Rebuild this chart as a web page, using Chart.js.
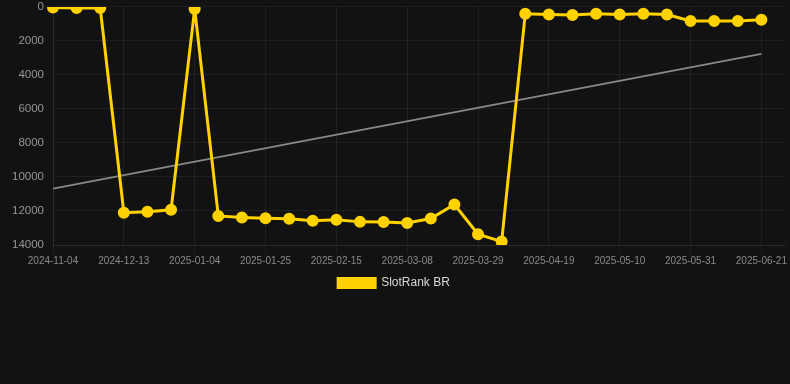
<!DOCTYPE html>
<html>
<head>
<meta charset="utf-8">
<script src="https://cdn.jsdelivr.net/npm/chart.js@4"></script>
<style>
  html, body { margin: 0; padding: 0; background: #121212; }
  #wrap { width: 790px; height: 299px; position: relative; }
</style>
</head>
<body>
<div id="wrap"><canvas id="rank"></canvas></div>
<script>
const dates = [
  "2024-11-04", "2024-11-17", "2024-11-30", "2024-12-13", "2024-12-20", "2024-12-28",
  "2025-01-04", "2025-01-11", "2025-01-18", "2025-01-25", "2025-02-01", "2025-02-08",
  "2025-02-15", "2025-02-22", "2025-03-01", "2025-03-08", "2025-03-15", "2025-03-22",
  "2025-03-29", "2025-04-05", "2025-04-12", "2025-04-19", "2025-04-26", "2025-05-03",
  "2025-05-10", "2025-05-17", "2025-05-24", "2025-05-31", "2025-06-07", "2025-06-14",
  "2025-06-21", "2025-06-28"
];
const rank = [
  30, 60, 70, 12100, 12050, 11930,
  120, 12290, 12380, 12430, 12450, 12580,
  12520, 12640, 12650, 12700, 12440, 11620,
  13370, 13800, 400, 450, 470, 400,
  450, 400, 450, 830, 830, 830,
  750
];
// trend line: only the two ends, joined across the gaps
const trend = [10690].concat(Array(29).fill(null), [2760]);

const gridCol = "rgba(255,255,255,0.06)";
const shown = (c) => (c.index % 3 === 0 ? gridCol : "transparent");

const ctx = document.getElementById("rank");
new Chart(ctx, {
  type: "line",
  data: {
    labels: dates,
    datasets: [
      {
        label: "SlotRank BR",
        data: rank,
        borderColor: "#ffd200",
        backgroundColor: "#ffd200",
        borderWidth: 3,
        pointRadius: 4.5,
        pointHoverRadius: 5,
        pointBackgroundColor: "#ffd200",
        pointBorderColor: "#ffd200",
        tension: 0
      },
      {
        label: "trend",
        data: trend,
        spanGaps: true,
        borderColor: "rgba(150,150,150,0.9)",
        borderWidth: 1.8,
        pointRadius: 0
      }
    ]
  },
  options: {
    responsive: true,
    maintainAspectRatio: false,
    animation: false,
    layout: { autoPadding: false, padding: { left: 3, right: 5 } },
    scales: {
      x: {
        offset: false,
        grid: { color: shown, tickColor: shown, tickLength: 8 },
        border: { color: gridCol },
        ticks: {
          autoSkip: false,
          maxRotation: 0,
          padding: 2,
          color: "#8a8a8a",
          font: { family: "'Liberation Sans', Arial", size: 10 },
          callback: function (v, i) { return i % 3 === 0 ? this.getLabelForValue(v) : ""; }
        }
      },
      y: {
        reverse: true,
        min: 0,
        max: 14000,
        afterFit: (scale) => { scale.width = 50; },
        grid: { color: gridCol, tickColor: "transparent", tickLength: 9 },
        border: { color: gridCol },
        ticks: {
          stepSize: 2000,
          padding: 0,
          color: "#959595",
          font: { family: "'Liberation Sans', Arial", size: 11.5 },
          callback: (v) => String(v)
        }
      }
    },
    plugins: {
      legend: {
        position: "bottom",
        labels: {
          color: "#d8d8d8",
          boxWidth: 37,
          boxHeight: 9,
          padding: 8,
          font: { family: "'Liberation Sans', Arial", size: 12 },
          filter: (item) => item.datasetIndex === 0
        }
      },
      tooltip: { enabled: false }
    }
  }
});
</script>
</body>
</html>
